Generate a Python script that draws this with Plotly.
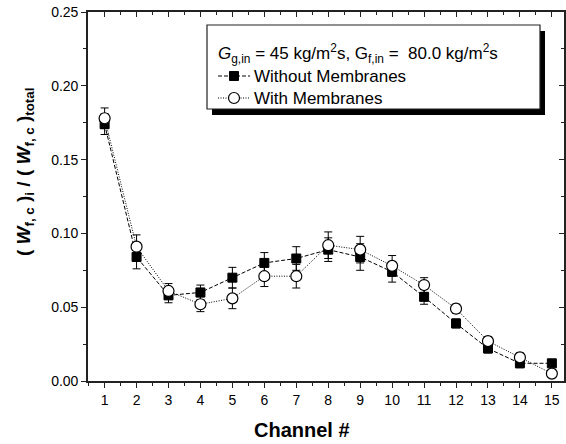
import plotly.graph_objects as go

channels = list(range(1, 16))
without_membranes = [0.174, 0.084, 0.058, 0.060, 0.070, 0.080, 0.083, 0.089, 0.084, 0.074, 0.057, 0.039, 0.022, 0.012, 0.012]
with_membranes = [0.178, 0.091, 0.061, 0.052, 0.056, 0.071, 0.071, 0.092, 0.089, 0.078, 0.065, 0.049, 0.027, 0.016, 0.005]
err_without = [0.007, 0.008, 0.005, 0.005, 0.007, 0.007, 0.008, 0.008, 0.009, 0.007, 0.005, 0.003, 0.003, 0.003, 0.002]
err_with = [0.007, 0.008, 0.005, 0.005, 0.007, 0.007, 0.008, 0.009, 0.009, 0.007, 0.005, 0.003, 0.003, 0.003, 0.002]
y_ticks = [0, 0.05, 0.10, 0.15, 0.20, 0.25]
y_ticktext = ["0.00", "0.05", "0.10", "0.15", "0.20", "0.25"]
series_names = ["Without Membranes", "With Membranes"]
legend_title = "<i>G</i><sub>g,in</sub> = 45 kg/m<sup>2</sup>s, G<sub>f,in</sub> =  80.0 kg/m<sup>2</sup>s"

FONT = "Liberation Sans, Arial, sans-serif"
W, H = 566, 444
ML, MR, MT, MB = 88, 2, 12, 63
PW, PH = W - ML - MR, H - MT - MB
XR = [0.48, 15.38]
YR = [0, 0.25]


def px(x):
    return (x - ML) / PW


def py(y):
    return (H - MB - y) / PH


styles = [
    dict(line=dict(color="black", width=1, dash="4px,2px"),
         marker=dict(symbol="square", size=9, color="black", line=dict(color="black", width=1))),
    dict(line=dict(color="black", width=1, dash="1px,1.5px"),
         marker=dict(symbol="circle", size=11, color="white", line=dict(color="black", width=1.2))),
]

fig = go.Figure()

# legend box with shadow (drawn below traces; no data lies under it)
bx0, bx1, by0, by1 = 207, 540, 25, 109
fig.add_shape(type="rect", xref="paper", yref="paper", x0=px(bx0 + 5), x1=px(bx1 + 5), y0=py(by1 + 6), y1=py(by0 + 6),
              fillcolor="black", line=dict(width=0), layer="below")
fig.add_shape(type="rect", xref="paper", yref="paper", x0=px(bx0), x1=px(bx1), y0=py(by1), y1=py(by0),
              fillcolor="white", line=dict(color="#222", width=1.2), layer="below")

for name, ys, es, st in zip(series_names, [without_membranes, with_membranes], [err_without, err_with], styles):
    fig.add_trace(go.Scatter(
        x=channels, y=ys, mode="lines+markers", name=name, showlegend=False,
        line=st["line"], marker=st["marker"],
        error_y=dict(type="data", array=es, color="black", thickness=1, width=4),
    ))

# dummy trace for mirror axes (top/right)
fig.add_trace(go.Scatter(x=[], y=[], xaxis="x2", yaxis="y2", showlegend=False))

tickfont = dict(family=FONT, size=14, color="black")
common = dict(showgrid=False, zeroline=False, showline=True, linecolor="#222", linewidth=1.6,
              tickcolor="#222", tickwidth=1.3)
minor_x = [c + 0.5 for c in [0] + channels]

fig.update_layout(
    xaxis=dict(range=XR, tickmode="array", tickvals=channels, ticks="outside", ticklen=5,
               tickfont=tickfont,
               minor=dict(ticks="outside", tickvals=minor_x, ticklen=3, tickcolor="#222", tickwidth=1.3),
               **common),
    yaxis=dict(range=YR, tickmode="array", tickvals=y_ticks, ticktext=y_ticktext,
               ticks="outside", ticklen=5, tickfont=tickfont,
               minor=dict(ticks="outside", dtick=0.025, ticklen=3, tickcolor="#222", tickwidth=1.3),
               **common),
    xaxis2=dict(range=XR, overlaying="x", side="top", anchor="y2", tickmode="array", tickvals=channels,
                ticks="inside", ticklen=5, showticklabels=False,
                minor=dict(ticks="inside", tickvals=minor_x, ticklen=3, tickcolor="#222", tickwidth=1.3),
                **common),
    yaxis2=dict(range=YR, overlaying="y", side="right", anchor="x2", tickmode="array", tickvals=y_ticks,
                ticks="inside", ticklen=5, showticklabels=False,
                minor=dict(ticks="inside", dtick=0.025, ticklen=3, tickcolor="#222", tickwidth=1.3),
                **common),
    xaxis3=dict(range=[0, 1], overlaying="x", anchor="y3", visible=False, fixedrange=True),
    yaxis3=dict(range=[0, 1], overlaying="y", anchor="x3", visible=False, fixedrange=True),
)

# axis titles
fig.add_annotation(text="<b>Channel #</b>", xref="paper", yref="paper", x=px(302), y=py(430),
                   xanchor="center", yanchor="middle", showarrow=False,
                   font=dict(family=FONT, size=20, color="black"))
fig.add_annotation(text="<b>( <i>W</i><sub>f, c</sub> )<sub>i</sub> / ( <i>W</i><sub>f, c</sub> )<sub>total</sub></b>",
                   xref="paper", yref="paper", x=px(25), y=py(172), textangle=-90,
                   xanchor="center", yanchor="middle", showarrow=False,
                   font=dict(family=FONT, size=19, color="black"))

# legend contents
fig.add_annotation(text=legend_title, xref="paper", yref="paper", x=px(216), y=py(53),
                   xanchor="left", yanchor="middle", showarrow=False,
                   font=dict(family=FONT, size=17, color="black"))
row_y = [76, 98]
sx0, sx1, text_x = 218, 250, 252
for name, yy, st in zip(series_names, row_y, styles):
    fig.add_trace(go.Scatter(x=[px(sx0), px(sx1)], y=[py(yy), py(yy)], mode="lines", line=st["line"],
                             xaxis="x3", yaxis="y3", showlegend=False, hoverinfo="skip"))
    fig.add_trace(go.Scatter(x=[px((sx0 + sx1) / 2)], y=[py(yy)], mode="markers", marker=st["marker"],
                             xaxis="x3", yaxis="y3", showlegend=False, hoverinfo="skip"))
    fig.add_annotation(text=name, xref="paper", yref="paper", x=px(text_x), y=py(yy),
                       xanchor="left", yanchor="middle", showarrow=False,
                       font=dict(family=FONT, size=17, color="black"))

fig.update_layout(
    width=W, height=H,
    margin=dict(l=ML, r=MR, t=MT, b=MB),
    paper_bgcolor="white", plot_bgcolor="rgba(0,0,0,0)",
    showlegend=False,
)

fig.write_html("out.html")
